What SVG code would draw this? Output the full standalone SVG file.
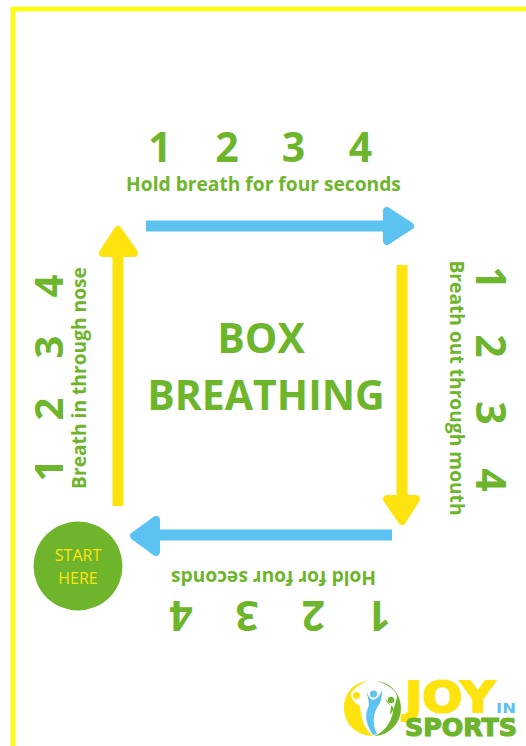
<svg xmlns="http://www.w3.org/2000/svg" width="526" height="746" viewBox="0 0 526 746">
<style>
text{font-family:"Open Sans","Noto Sans",sans-serif;font-weight:700;fill:#6db52b;text-anchor:middle}
.n{font-size:41px}
.l{font-size:19.2px}
.t{font-size:41px}
.bar{stroke-width:11;fill:none}
.blue{fill:#5bc2f2;stroke:#5bc2f2}
.yel{fill:#ffe30f;stroke:#ffe30f}
.head{stroke-width:8;stroke-linejoin:round}
.logo{font-family:"DejaVu Sans",sans-serif;font-weight:700;text-anchor:start}
</style>
<rect width="526" height="746" fill="#fff"/>
<path id="border" d="M13 746V9H526" fill="none" stroke="#ffff00" stroke-width="4.4"/>
<g id="connectors">
<g id="arrow-top"><path class="bar blue" d="M146 226H386"/><path class="head blue" d="M387 211L410 226L387 241Z"/></g>
<g id="arrow-right"><path class="bar yel" d="M402 265V497"/><path class="head yel" d="M387 499H416L402 521Z"/></g>
<g id="arrow-bottom"><path class="bar blue" d="M392 535H157"/><path class="head blue" d="M156 520L134 536L156 552Z"/></g>
<g id="arrow-left"><path class="bar yel" d="M118 506V255"/><path class="head yel" d="M103 253H134L118 230Z"/></g>
</g>
<g id="top-label">
<text class="n" x="160" y="162">1</text><text class="n" x="227" y="162">2</text><text class="n" x="293.500" y="162">3</text><text class="n" x="360.500" y="162">4</text>
<text class="l" x="263.500" y="191">Hold breath for four seconds</text>
</g>
<g id="right-label" transform="translate(462 388) rotate(90)">
<text class="l" x="0" y="12">Breath out through mouth</text>
<text class="n" x="-110" y="-14">1</text><text class="n" x="-42" y="-14">2</text><text class="n" x="25" y="-14">3</text><text class="n" x="92" y="-14">4</text>
</g>
<g id="bottom-label" transform="rotate(180 263 590)">
<text class="l" x="252.500" y="609.500">Hold for four seconds</text>
<text class="n" x="147" y="579">1</text><text class="n" x="212.500" y="579">2</text><text class="n" x="279" y="579">3</text><text class="n" x="345" y="579">4</text>
</g>
<g id="left-label" transform="translate(0 378) rotate(-90)">
<text class="l" x="0" y="86">Breath in through nose</text>
<g style="font-size:40px">
<text x="-92" y="63" style="font-size:40px">1</text><text x="-31" y="63" style="font-size:40px">2</text><text x="31" y="63" style="font-size:40px">3</text><text x="92" y="63" style="font-size:40px">4</text>
</g>
</g>
<g id="title">
<text class="t" x="261" y="353">BOX</text>
<text class="t" x="266" y="410">BREATHING</text>
</g>
<g id="start">
<circle cx="78" cy="566" r="44.5" fill="#6fb52b"/>
<text x="78" y="561" style="font-weight:400;font-size:16px;fill:#ffe30f">START</text>
<text x="78" y="584" style="font-weight:400;font-size:16px;fill:#ffe30f">HERE</text>
</g>
<g id="logo">
<path d="M367 681C352 683 344 695 344 708C344 724 357 736 373 736C366 731 361 720 360 706C354 703 350 697 351 693C355 688 360 684 367 681Z" fill="#ffe30f"/>
<path d="M377 681C392 683 401 695 401 708C401 724 388 736 374 736C385 732 391 722 393 712C394 706 397 701 397 695C394 689 387 684 377 681Z" fill="#6fb52b"/>
<path d="M385 698C387 703 389 705 392 706L394 709L390 715L391 706Z" fill="#6fb52b"/>
<path d="M366 690C368 696 370 699 373 700C377 699 380 696 382 690C382 697 381 702 378 706C373 714 372 724 377 734L373 735C367 726 364 716 368 708C370 704 368 698 366 690Z" fill="#5bc2f2"/>
<circle cx="356.500" cy="695.500" r="3.500" fill="#ffe30f"/><circle cx="373.500" cy="694" r="3.500" fill="#5bc2f2"/><circle cx="391" cy="700" r="3.200" fill="#6fb52b"/>
<text class="logo" x="405" y="712" textLength="90" lengthAdjust="spacingAndGlyphs" style="font-size:42px;fill:#ffe30f;stroke:#ffe30f;stroke-width:2">JOY</text>
<text class="logo" x="496" y="713" textLength="20" lengthAdjust="spacingAndGlyphs" style="font-size:14px;fill:#5bc2f2">IN</text>
<text class="logo" x="405" y="736" textLength="112" lengthAdjust="spacingAndGlyphs" style="font-size:24px;fill:#6db52b;stroke:#6db52b;stroke-width:1.200">SPORTS</text>
</g>
</svg>
